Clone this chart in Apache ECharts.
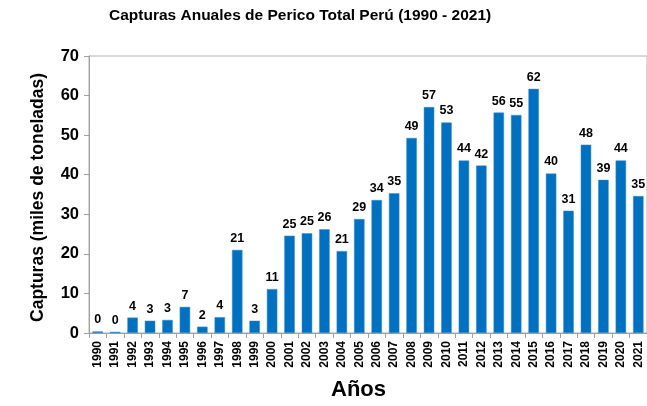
<!DOCTYPE html>
<html>
<head>
<meta charset="utf-8">
<script src="https://cdn.jsdelivr.net/npm/echarts@6/dist/echarts.min.js"></script>
<style>
  html, body { margin: 0; padding: 0; background: #fff; }
  #chart { width: 647px; height: 406px; }
</style>
</head>
<body>
<div id="chart"></div>
<script>
// años y capturas (miles de toneladas)
var years = ['1990', '1991', '1992', '1993', '1994', '1995', '1996', '1997', '1998', '1999',
  '2000', '2001', '2002', '2003', '2004', '2005', '2006', '2007', '2008', '2009',
  '2010', '2011', '2012', '2013', '2014', '2015', '2016', '2017', '2018', '2019',
  '2020', '2021'];
var capturas = [0.4, 0.3, 3.9, 3.1, 3.3, 6.6, 1.6, 4.0, 21.0, 3.1,
  11.1, 24.6, 25.2, 26.2, 20.7, 28.8, 33.6, 35.3, 49.3, 57.1,
  53.2, 43.6, 42.3, 55.7, 55.1, 61.7, 40.3, 30.9, 47.6, 38.7,
  43.6, 34.6];

var font = 'Liberation Sans, Arial, sans-serif';
var myChart = echarts.init(document.getElementById('chart'));

myChart.setOption({
  animation: false,
  title: {
    text: 'Capturas Anuales de Perico Total Perú (1990 - 2021)',
    left: 104,
    top: 3,
    textStyle: { fontFamily: font, fontSize: 15.5, fontWeight: 'bold', color: '#000' }
  },
  graphic: [{
    type: 'text',
    left: 331,
    top: 379,
    style: { text: 'Años', fontFamily: font, fontSize: 22, fontWeight: 'bold', fill: '#000' }
  }],
  grid: {
    left: 89,
    top: 56,
    width: 560,
    height: 277,
    show: true,
    borderColor: '#b0b0b0',
    borderWidth: 1
  },
  xAxis: {
    type: 'category',
    data: years,
    axisLine: { lineStyle: { color: '#a0a0a0' } },
    axisTick: { show: true, length: 5, lineStyle: { color: '#a0a0a0' } },
    axisLabel: {
      rotate: 90,
      interval: 0,
      margin: 8,
      fontFamily: font,
      fontSize: 12,
      fontWeight: 'bold',
      color: '#000'
    }
  },
  yAxis: {
    type: 'value',
    min: 0,
    max: 70,
    interval: 10,
    name: 'Capturas (miles de toneladas)',
    nameLocation: 'middle',
    nameGap: 42,
    nameTextStyle: { fontFamily: font, fontSize: 17.5, fontWeight: 'bold', color: '#000', padding: [0, 0, 0, -6] },
    axisLine: { show: true, lineStyle: { color: '#a0a0a0' } },
    axisTick: { show: true, length: 5, lineStyle: { color: '#a0a0a0' } },
    splitLine: { show: false },
    axisLabel: {
      margin: 10,
      fontFamily: font,
      fontSize: 16.5,
      fontWeight: 'bold',
      color: '#000'
    }
  },
  series: [{
    type: 'bar',
    data: capturas,
    barWidth: '60%',
    itemStyle: { color: '#0070C0', borderColor: '#3a8fd0', borderWidth: 0.5 },
    label: {
      show: true,
      position: 'top',
      distance: 5,
      fontFamily: font,
      fontSize: 12.5,
      fontWeight: 'bold',
      color: '#000',
      formatter: function (p) { return Math.round(p.value); }
    }
  }]
});
</script>
</body>
</html>
